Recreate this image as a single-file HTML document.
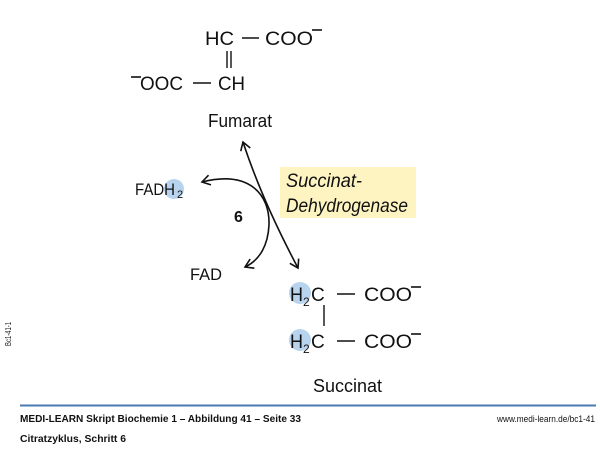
<!DOCTYPE html>
<html><head><meta charset="utf-8"><style>
html,body{margin:0;padding:0;background:#fff;width:600px;height:469px;overflow:hidden}
svg{display:block}
text{font-family:"Liberation Sans",sans-serif;fill:#111}
</style></head><body>
<svg width="600" height="469" viewBox="0 0 600 469" xmlns="http://www.w3.org/2000/svg">
<defs>
<marker id="ah" markerWidth="12" markerHeight="12" refX="9" refY="6" orient="auto-start-reverse" markerUnits="userSpaceOnUse">
<path d="M1,1 L9,6 L1,11" fill="none" stroke="#111" stroke-width="1.6"/>
</marker>
</defs>
<!-- Fumarat -->
<text x="205" y="45" font-size="19" textLength="29" lengthAdjust="spacingAndGlyphs">HC</text>
<line x1="242" y1="38" x2="259" y2="38" stroke="#111" stroke-width="1.4"/>
<text x="265" y="45" font-size="19" textLength="48" lengthAdjust="spacingAndGlyphs">COO</text>
<line x1="312" y1="30" x2="322" y2="30" stroke="#111" stroke-width="1.6"/>
<line x1="227" y1="51" x2="227" y2="68" stroke="#111" stroke-width="1.4"/>
<line x1="231" y1="51" x2="231" y2="68" stroke="#111" stroke-width="1.4"/>
<line x1="131" y1="77" x2="141" y2="77" stroke="#111" stroke-width="1.6"/>
<text x="140" y="90" font-size="19" textLength="43" lengthAdjust="spacingAndGlyphs">OOC</text>
<line x1="193" y1="83" x2="211" y2="83" stroke="#111" stroke-width="1.4"/>
<text x="218" y="90" font-size="19" textLength="27" lengthAdjust="spacingAndGlyphs">CH</text>
<text x="208" y="127" font-size="18" textLength="64" lengthAdjust="spacingAndGlyphs">Fumarat</text>
<!-- arrows -->
<path d="M298,268 Q262,200 243,142" fill="none" stroke="#111" stroke-width="1.6" marker-start="url(#ah)" marker-end="url(#ah)"/>
<path d="M202,182 C250,170 270,195 269,225 C268,245 260,260 245,267" fill="none" stroke="#111" stroke-width="1.6" marker-start="url(#ah)" marker-end="url(#ah)"/>
<!-- enzyme box -->
<rect x="280" y="167" width="136" height="51" fill="#fdf4c2"/>
<text x="286" y="187" font-size="19" font-style="italic" textLength="76" lengthAdjust="spacingAndGlyphs">Succinat-</text>
<text x="286" y="212" font-size="19" font-style="italic" textLength="122" lengthAdjust="spacingAndGlyphs">Dehydrogenase</text>
<!-- FADH2 -->
<circle cx="174" cy="189" r="10" fill="#b8d3ee"/>
<text x="135" y="195" font-size="17" textLength="40" lengthAdjust="spacingAndGlyphs">FADH</text>
<text x="177" y="198" font-size="11">2</text>
<text x="234" y="222" font-size="16" font-weight="bold">6</text>
<text x="190" y="280" font-size="17" textLength="32" lengthAdjust="spacingAndGlyphs">FAD</text>
<!-- Succinat -->
<circle cx="300" cy="293" r="11" fill="#b8d3ee"/>
<text x="290" y="301" font-size="19" textLength="13" lengthAdjust="spacingAndGlyphs">H</text>
<text x="303" y="306" font-size="12">2</text>
<text x="311" y="301" font-size="19">C</text>
<line x1="337" y1="294" x2="355" y2="294" stroke="#111" stroke-width="1.4"/>
<text x="364" y="301" font-size="19" textLength="48" lengthAdjust="spacingAndGlyphs">COO</text>
<line x1="411" y1="287" x2="421" y2="287" stroke="#111" stroke-width="1.6"/>
<line x1="324" y1="305" x2="324" y2="326" stroke="#111" stroke-width="1.4"/>
<circle cx="300" cy="340" r="11" fill="#b8d3ee"/>
<text x="290" y="348" font-size="19" textLength="13" lengthAdjust="spacingAndGlyphs">H</text>
<text x="303" y="353" font-size="12">2</text>
<text x="311" y="348" font-size="19">C</text>
<line x1="337" y1="341" x2="355" y2="341" stroke="#111" stroke-width="1.4"/>
<text x="364" y="348" font-size="19" textLength="48" lengthAdjust="spacingAndGlyphs">COO</text>
<line x1="411" y1="334" x2="421" y2="334" stroke="#111" stroke-width="1.6"/>
<text x="313" y="392" font-size="18" textLength="69" lengthAdjust="spacingAndGlyphs">Succinat</text>
<!-- side label -->
<text transform="translate(11,346) rotate(-90)" font-size="8" textLength="24" lengthAdjust="spacingAndGlyphs">Bc1-41-1</text>
<!-- footer -->
<line x1="20" y1="405.5" x2="596" y2="405.5" stroke="#4a78b0" stroke-width="2"/>
<text x="20" y="422" font-size="10.5" font-weight="bold" textLength="281" lengthAdjust="spacingAndGlyphs">MEDI-LEARN Skript Biochemie 1 – Abbildung 41 – Seite 33</text>
<text x="20" y="442" font-size="10.5" font-weight="bold" textLength="106" lengthAdjust="spacingAndGlyphs">Citratzyklus, Schritt 6</text>
<text x="497" y="422" font-size="9" fill="#333" textLength="98" lengthAdjust="spacingAndGlyphs">www.medi-learn.de/bc1-41</text>
</svg>
</body></html>
